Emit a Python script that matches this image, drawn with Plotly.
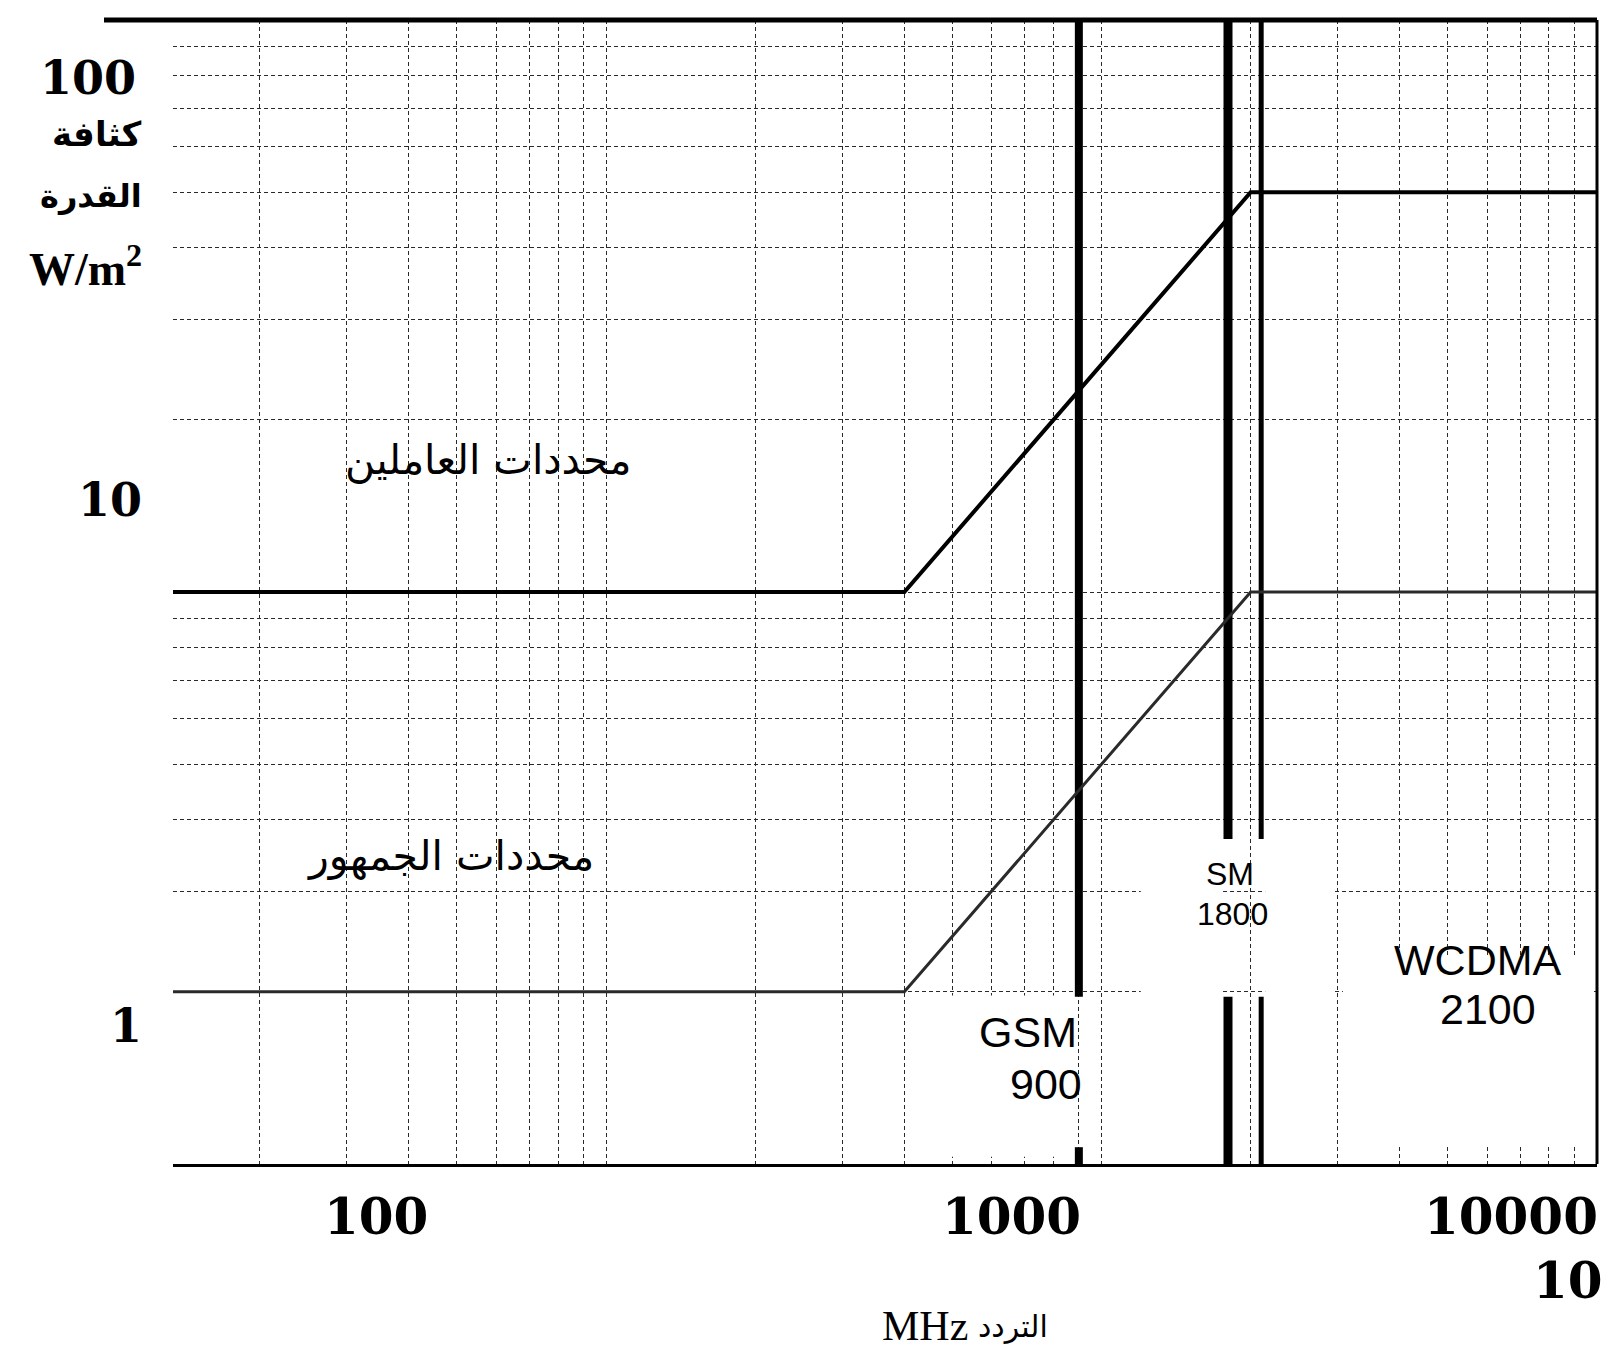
import math
import plotly.graph_objects as go

# ---------------- data ----------------
freq_mhz = [10, 400, 2000, 10000]
workers_limit = [10, 10, 50, 50]          # W/m2
public_limit = [2, 2, 10, 10]             # W/m2

band_freqs = [900, 1800, 2100]
band_labels_top = ["GSM", "SM", "WCDMA"]
band_labels_bottom = ["900", "1800", "2100"]
band_upper_end = [1.96, 3.7, 3.7]         # W/m2 where upper bar stops
band_lower_start = [1.07, 1.96, 1.96]     # W/m2 where lower bar restarts

x_grid_vals = [20, 30, 40, 50, 60, 70, 80, 90, 100, 200, 300, 400, 500, 600, 700, 800, 900,
               1000, 2000, 3000, 4000, 5000, 6000, 7000, 8000, 9000, 10000]
y_grid_vals = [1, 2, 3, 4, 5, 6, 7, 8, 9, 10, 20, 30, 40, 50, 60, 70, 80, 90, 100]

x_tick_labels = ["100", "1000", "10000", "10"]
y_tick_labels = ["100", "10", "1"]
y_title_lines = ["كثافة", "القدرة", "W/m<sup>2</sup>"]
x_title_parts = ["MHz", "التردد"]
workers_text = "محددات العاملين"
public_text = "محددات الجمهور"

# ---------------- layout geometry (pixels) ----------------
W, H = 1617, 1350
L, R, T, B = 165, 1589, 12, 1156
XR = [1.126, 4.0]
YR = [0.0, 2.0]


def px(x):
    return (x - L) / (R - L)


def py(y):
    return (B - y) / (B - T)


def fx(f):  # frequency -> pixel x
    return L + (math.log10(f) - XR[0]) / (XR[1] - XR[0]) * (R - L)


def vy(v):  # value -> pixel y
    return B - (math.log10(v) - YR[0]) / (YR[1] - YR[0]) * (B - T)


fig = go.Figure()

band_w = [8, 9, 5]
for f, up, lo, w in zip(band_freqs, band_upper_end, band_lower_start, band_w):
    fig.add_trace(go.Scatter(x=[f, f, None, f, f], y=[100, up, None, lo, 1],
                             mode="lines", line=dict(color="black", width=w),
                             hoverinfo="skip", showlegend=False, connectgaps=False))

fig.add_trace(go.Scatter(x=freq_mhz, y=workers_limit, mode="lines",
                         line=dict(color="black", width=4), showlegend=False))
fig.add_trace(go.Scatter(x=freq_mhz, y=public_limit, mode="lines",
                         line=dict(color="#2a2a2a", width=3), showlegend=False))

grid_style = dict(showgrid=True, gridcolor="#2a2a2a", gridwidth=1, griddash="4px,3px",
                  showticklabels=False, ticks="", zeroline=False)

fig.update_xaxes(type="log", range=XR, tickmode="array", tickvals=x_grid_vals,
                 showline=True, linecolor="black", linewidth=3, mirror=False, **grid_style)
fig.update_yaxes(type="log", range=YR, tickmode="array", tickvals=y_grid_vals,
                 showline=False, **grid_style)


def white_box(x0, x1, y0, y1):
    return dict(type="rect", xref="paper", yref="paper", x0=px(x0), x1=px(x1),
                y0=py(y1), y1=py(y0), fillcolor="white", line=dict(width=0), layer="above")


g900, s1800, w2100 = (fx(f) for f in band_freqs)
shapes = [
    # blank areas behind the band labels (kept clear of the band bars)
    white_box(fx(1200), s1800 - 6, vy(3.75), B - 2),
    white_box(w2100 + 4, fx(3000) - 4, vy(3.75), B - 2),
    white_box(fx(400) + 4, g900 - 5, vy(1.97), vy(1.03)),
    white_box(fx(3000) + 5, fx(10000) - 4, vy(2.3), vy(1.08)),
    # top border (extends left) and right border
    dict(type="line", xref="paper", yref="paper", x0=px(96), x1=1, y0=1, y1=1,
         line=dict(color="black", width=5), layer="above"),
    dict(type="line", xref="paper", yref="paper", x0=1, x1=1, y0=0, y1=1,
         line=dict(color="black", width=3), layer="above"),
]

serif_num = dict(family="DejaVu Serif", size=46, color="black", weight="bold")
ann = []


def add(text, x, y, font, xanchor="center", yanchor="middle"):
    ann.append(dict(text=text, x=px(x), y=py(y), xref="paper", yref="paper", showarrow=False,
                    xanchor=xanchor, yanchor=yanchor, font=font))


# y tick labels
add(y_tick_labels[0], 80, 70, serif_num)
add(y_tick_labels[1], 102, 492, serif_num)
add(y_tick_labels[2], 118, 1018, serif_num)
# y title
ar_bold = dict(family="DejaVu Sans", size=34, color="black", weight="bold")
add(y_title_lines[0], 136, 126, ar_bold, xanchor="right")
add(y_title_lines[1], 136, 188, dict(ar_bold, size=32), xanchor="right")
add(y_title_lines[2], 136, 258, dict(family="Liberation Serif", size=46, color="black", weight="bold"),
    xanchor="right")
# x tick labels
xnum = dict(family="DejaVu Serif", size=50, color="black", weight="bold")
add(x_tick_labels[0], 368, 1208, xnum)
add(x_tick_labels[1], 1003, 1208, xnum)
add(x_tick_labels[2], 1503, 1208, xnum)
add(x_tick_labels[3], 1560, 1272, xnum)
# x title
add(x_title_parts[0], 962, 1318, dict(family="Liberation Serif", size=42, color="black"),
    xanchor="right")
add(x_title_parts[1], 968, 1318, dict(family="DejaVu Sans", size=30, color="black"),
    xanchor="left")
# series labels
ar = dict(family="DejaVu Sans", size=41, color="black")
add(workers_text, 480, 452, ar)
add(public_text, 442, 848, ar)
# band labels
big = dict(family="Liberation Sans", size=43, color="black")
small = dict(family="Liberation Sans", size=32, color="black")
add(band_labels_top[0], 1020, 1024, big)
add(band_labels_bottom[0], 1038, 1076, big)
add(band_labels_top[1], 1222, 866, small)
add(band_labels_bottom[1], 1224, 906, small)
add(band_labels_top[2], 1470, 952, big)
add(band_labels_bottom[2], 1480, 1001, big)

fig.update_layout(width=W, height=H, margin=dict(l=L, r=W - R, t=T, b=H - B),
                  paper_bgcolor="white", plot_bgcolor="white", shapes=shapes, annotations=ann,
                  showlegend=False)

fig.write_html("out.html")
